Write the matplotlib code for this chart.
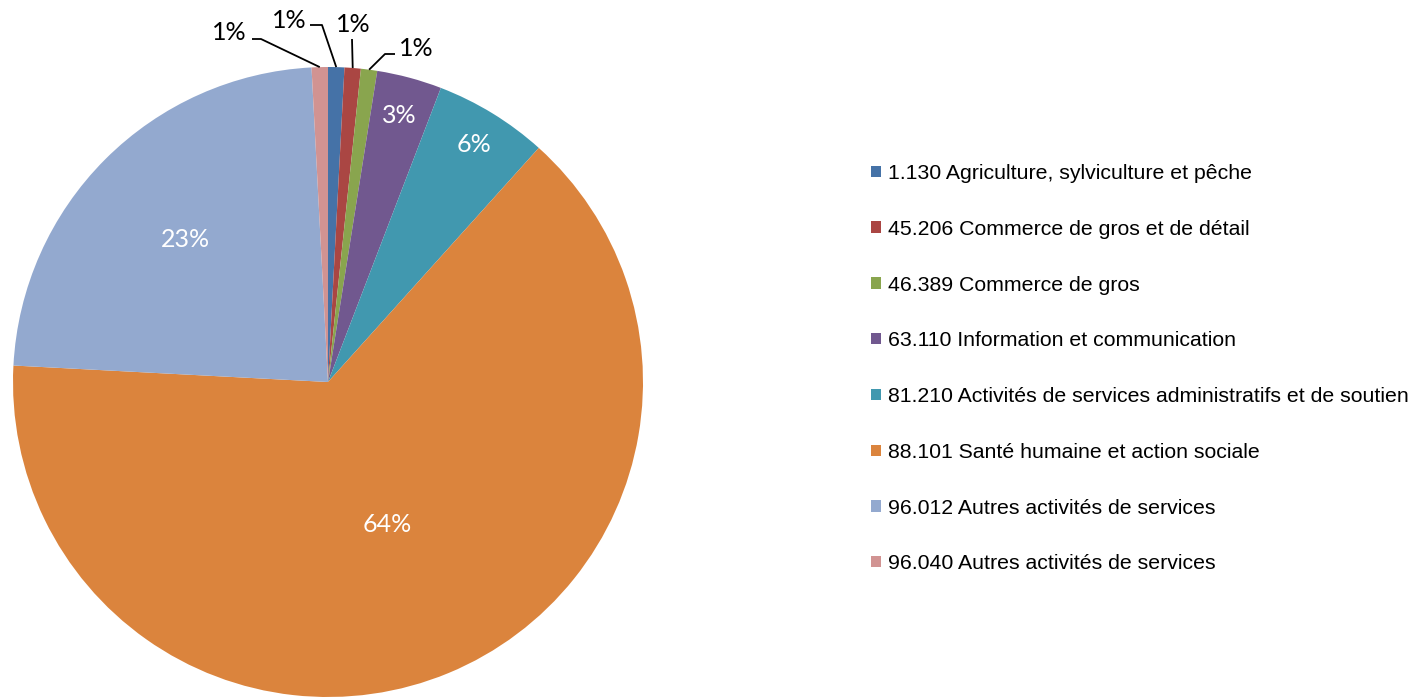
import matplotlib
import numpy as np
from matplotlib import pyplot as plt
from matplotlib.patches import Patch

matplotlib.use("Agg")

# data (slices in clockwise order from 12 o'clock)
codes = ["1.130", "45.206", "46.389", "63.110", "81.210", "88.101", "96.012", "96.040"]
sectors = [
    "Agriculture, sylviculture et pêche",
    "Commerce de gros et de détail",
    "Commerce de gros",
    "Information et communication",
    "Activités de services administratifs et de soutien",
    "Santé humaine et action sociale",
    "Autres activités de services",
    "Autres activités de services",
]
counts = [1, 1, 1, 4, 7, 77, 28, 1]
colors = ["#4572A7", "#AA4643", "#89A54E", "#71588F", "#4198AF", "#DB843D", "#93A9CF", "#D19392"]

W, H = 1413, 698
CX, CY, R = 328, H - 382, 315

# label placement: inside labels use a radial distance, small slices use leader lines
inside_dist = {3: 0.876, 4: 0.886, 5: 0.49, 6: 0.64}
# (text x, text y, elbow x, elbow y) in pixels from top-left, for the small slices
outside = {
    7: (229, 33, 252, 39, 261, 39),
    0: (289, 20, 310, 25, 322, 25),
    1: (353, 24, 352, 39, 352, 39),
    2: (416, 48, 395, 54, 385, 54),
}


def main():
    fig = plt.figure(figsize=(W / 100, H / 100), dpi=100)
    ax = fig.add_axes([0, 0, 1, 1])

    wedges, _ = ax.pie(counts, colors=colors, startangle=90, counterclock=False,
                       center=(CX, CY), radius=R, wedgeprops=dict(linewidth=0),
                       frame=True)
    ax.set_xlim(0, W)
    ax.set_ylim(0, H)
    ax.set_aspect("equal")
    ax.axis("off")

    total = sum(counts)
    for i, w in enumerate(wedges):
        pct = f"{round(100 * counts[i] / total)}%"
        mid = np.deg2rad((w.theta1 + w.theta2) / 2)
        if i in inside_dist:
            d = inside_dist[i] * R
            ax.text(CX + d * np.cos(mid), CY + d * np.sin(mid), pct, color="white",
                    fontsize=18, family="Lato", ha="center", va="center")
        else:
            tx, ty, ax0, ay0, ax1, ay1 = outside[i]
            ex, ey = CX + R * np.cos(mid), CY + R * np.sin(mid)
            ax.plot([ax0, ax1, ex], [H - ay0, H - ay1, ey], color="black", lw=1.3,
                    solid_capstyle="butt")
            ax.text(tx, H - ty, pct, color="black", fontsize=18, family="Lato",
                    ha="center", va="center")

    handles = [Patch(facecolor=c, edgecolor="none") for c in colors]
    labels = [f"{c} {s}" for c, s in zip(codes, sectors)]
    fig.legend(handles, labels, loc="upper left", bbox_to_anchor=(871 / W, 1 - 164 / H),
               frameon=False, prop=dict(family="Liberation Sans", size=15.3),
               handlelength=0.45, handleheight=0.45, handletextpad=0.33,
               labelspacing=1.73, borderpad=0, borderaxespad=0)

    fig.savefig("out.png", dpi=100)


if __name__ == "__main__":
    main()
